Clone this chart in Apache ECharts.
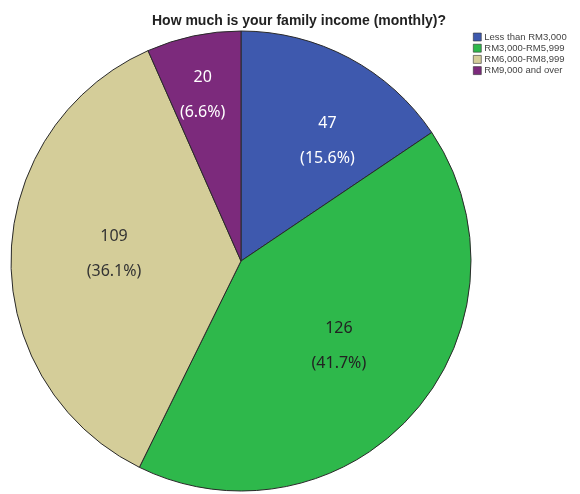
<!DOCTYPE html>
<html>
<head>
<meta charset="utf-8">
<script src="https://cdn.jsdelivr.net/npm/echarts@6/dist/echarts.min.js"></script>
<style>
  html, body { margin: 0; padding: 0; background: #fff; }
  #main { width: 580px; height: 494px; }
</style>
</head>
<body>
<div id="main"></div>
<script>
// income groups and counts
var categories = ['Less than RM3,000', 'RM3,000-RM5,999', 'RM6,000-RM8,999', 'RM9,000 and over'];
var counts = [47, 126, 109, 20];

var sliceColors = ['#3E59AE', '#2EB84B', '#D4CD99', '#7C2A7C'];
var labelColors = ['#ffffff', '#222222', '#333333', '#ffffff'];
// nudge labels away from default 'inside' spot (SPSS-style placement)
var labelNudge = [[31, -16], [9, 7], [-9, -5], [-14, -51]];

var chart = echarts.init(document.getElementById('main'));

var pieData = categories.map(function (name, i) {
    return {
        name: name,
        value: counts[i],
        itemStyle: { color: sliceColors[i] },
        label: { color: labelColors[i] }
    };
});

var option = {
    backgroundColor: '#fff',
    animation: false,
    title: {
        text: 'How much is your family income (monthly)?',
        left: 294,
        textAlign: 'center',
        top: 9,
        textStyle: {
            fontFamily: 'Liberation Sans',
            fontSize: 14,
            fontWeight: 'bold',
            color: '#222'
        }
    },
    legend: {
        orient: 'vertical',
        left: 473,
        top: 32,
        padding: 0,
        itemWidth: 8,
        itemHeight: 8,
        itemGap: 1.2,
        icon: 'rect',
        selectedMode: false,
        itemStyle: { borderColor: '#333', borderWidth: 0.6 },
        textStyle: {
            fontFamily: 'Liberation Sans',
            fontSize: 9.5,
            lineHeight: 8,
            color: '#444',
            padding: [0, 0, 0, -2]
        },
        data: categories
    },
    series: [
        {
            type: 'pie',
            center: [241, 261],
            radius: [0, 230],
            startAngle: 90,
            clockwise: true,
            percentPrecision: 1,
            itemStyle: {
                borderColor: '#2a2a2a',
                borderWidth: 1
            },
            label: {
                show: true,
                position: 'inside',
                formatter: '{c}\n({d}%)',
                fontFamily: 'Noto Sans',
                fontSize: 16,
                lineHeight: 35
            },
            labelLine: { show: false },
            emphasis: { disabled: true },
            labelLayout: function (params) {
                var n = labelNudge[params.dataIndex];
                return { dx: n[0], dy: n[1] };
            },
            data: pieData
        }
    ]
};

chart.setOption(option);
</script>
</body>
</html>
